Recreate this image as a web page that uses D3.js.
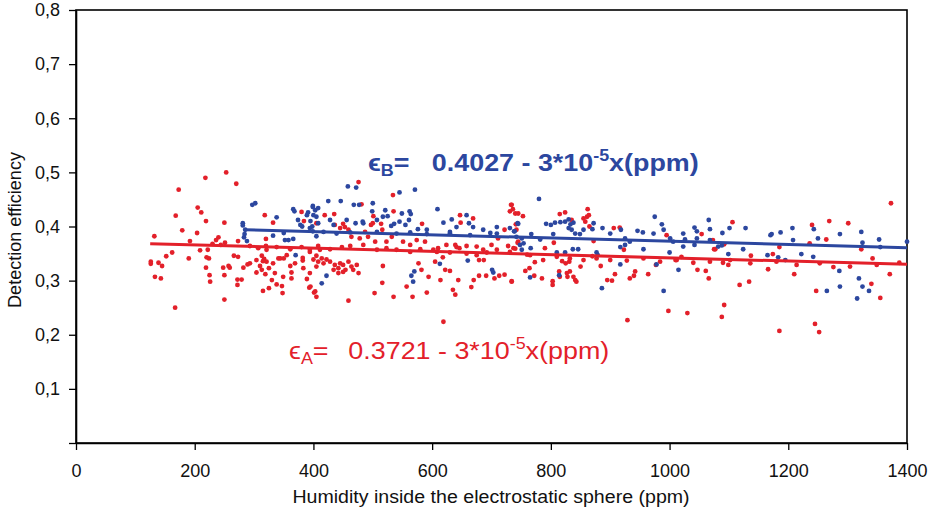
<!DOCTYPE html>
<html>
<head>
<meta charset="utf-8">
<script src="https://cdn.jsdelivr.net/npm/d3@7"></script>
<style>
  html, body { margin: 0; padding: 0; background: #ffffff; }
  svg { display: block; }
  text { font-family: "Liberation Sans", Arial, sans-serif; }
</style>
</head>
<body>
<svg id="chart" width="933" height="517"></svg>
<script>
// ---------------- DATA ----------------
const xTicks = [0, 200, 400, 600, 800, 1000, 1200, 1400];
const yTicks = [0, 0.1, 0.2, 0.3, 0.4, 0.5, 0.6, 0.7, 0.8];
const xTitle = "Humidity inside the electrostatic sphere (ppm)";
const yTitle = "Detection efficiency";

// fit lines: eps = a + b*x
const fitA = { a: 0.3721, b: -3e-5, x0: 125, x1: 1400 };
const fitB = { a: 0.4027, b: -3e-5, x0: 285, x1: 1400 };

// Detector A (red) points: [humidity ppm, efficiency]
const pointsA = [
[218,0.490],[253,0.500],[270,0.479],[173,0.468],[205,0.435],[211,0.426],[168,0.420],[219,0.410],[250,0.407],[179,0.393],
[204,0.388],[132,0.382],[192,0.373],[236,0.375],[251,0.370],[162,0.352],[152,0.345],[126,0.335],[126,0.331],[139,0.333],
[145,0.327],[133,0.307],[143,0.304],[190,0.341],[209,0.356],[222,0.357],[220,0.343],[224,0.341],[219,0.324],[225,0.310],
[226,0.298],[248,0.324],[257,0.327],[259,0.324],[250,0.310],[266,0.346],[273,0.344],[273,0.373],[282,0.324],[272,0.302],
[279,0.302],[272,0.292],[250,0.265],[167,0.250],[289,0.330],[293,0.332],[304,0.315],[318,0.421],[332,0.407],[320,0.377],
[320,0.364],[313,0.346],[317,0.340],[315,0.336],[325,0.323],[319,0.312],[330,0.301],[325,0.286],[315,0.281],[338,0.293],
[347,0.290],[348,0.277],[344,0.341],[350,0.341],[361,0.327],[363,0.315],[382,0.337],[382,0.342],[389,0.303],[393,0.287],
[401,0.278],[380,0.427],[384,0.410],[405,0.406],[293,0.364],[307,0.360],[321,0.357],[338,0.362],[361,0.358],[380,0.362],
[394,0.357],[408,0.364],[240,0.380],[244,0.366],[230,0.368],
[304,0.338],[310,0.327],[321,0.335],[332,0.332],[341,0.341],[355,0.347],[369,0.332],[383,0.323],[394,0.314],[405,0.326],
[313,0.320],[335,0.314],[349,0.307],[363,0.304],
[476,0.482],[481,0.441],[534,0.458],[419,0.421],[435,0.423],[535,0.428],[501,0.419],[500,0.406],[497,0.403],[450,0.405],
[453,0.399],[514,0.405],[516,0.394],[583,0.405],[647,0.421],[648,0.407],[669,0.415],[733,0.440],[736,0.432],[731,0.428],
[722,0.394],[405,0.346],[414,0.341],[422,0.339],[434,0.320],[442,0.323],[450,0.329],[454,0.320],[467,0.320],[476,0.314],
[395,0.289],[403,0.280],[405,0.270],[459,0.263],[503,0.277],[516,0.296],[517,0.327],[535,0.270],[557,0.289],[567,0.270],
[577,0.332],[582,0.320],[594,0.307],[591,0.278],[605,0.335],[614,0.301],[622,0.320],[630,0.318],[635,0.283],[639,0.274],
[644,0.301],[666,0.288],[670,0.301],[679,0.309],[679,0.338],[687,0.338],[691,0.309],[705,0.304],[713,0.309],[722,0.311],
[734,0.298],[619,0.224],[394,0.353],[411,0.357],[428,0.358],[448,0.362],[462,0.364],[484,0.366],[507,0.357],[523,0.360],
[540,0.357],[563,0.353],[580,0.358],[608,0.353],[624,0.366],[641,0.362],[658,0.350],[675,0.347],[692,0.352],[709,0.357],
[731,0.353],
[436,0.403],[445,0.397],[459,0.394],[464,0.381],[478,0.378],[487,0.390],[492,0.381],[504,0.372],[523,0.372],[532,0.381],
[551,0.372],[563,0.366],[574,0.375],[588,0.372],[602,0.357],[610,0.360],[618,0.343],[630,0.352],[639,0.366],[646,0.360],
[658,0.364],[675,0.363],[686,0.357],[700,0.366],[711,0.378],[728,0.364],[737,0.360],[745,0.372],
[400,0.339],[408,0.335],[417,0.332],[428,0.335],[436,0.329],[445,0.332],[459,0.335],[464,0.326],[473,0.329],[450,0.316],[442,0.314],
[734,0.440],[740,0.424],[745,0.424],[753,0.419],[741,0.404],[742,0.394],[744,0.370],[740,0.359],[734,0.299],[757,0.318],
[764,0.323],[773,0.334],[772,0.309],[785,0.304],[790,0.360],[805,0.370],[803,0.299],[803,0.292],[814,0.317],[815,0.307],
[815,0.423],[824,0.426],[835,0.412],[819,0.336],[825,0.332],[831,0.335],[827,0.314],[828,0.307],[832,0.317],[838,0.307],
[841,0.301],[843,0.298],[855,0.415],[858,0.409],[861,0.418],[864,0.421],[862,0.432],[865,0.400],[850,0.326],[872,0.373],
[884,0.327],[895,0.301],[903,0.300],[908,0.312],[906,0.397],[916,0.398],[923,0.357],[933,0.304],[940,0.309],[942,0.317],
[929,0.227],[964,0.312],[995,0.384],[977,0.329],[998,0.244],[1030,0.240],[1020,0.344],[1047,0.320],[1061,0.318],[1066,0.304],
[1054,0.386],[1075,0.358],[760,0.348],[870,0.345],[1010,0.338],
[765,0.347],[787,0.338],[810,0.344],[832,0.341],[855,0.338],[877,0.341],[900,0.338],[928,0.337],[956,0.341],[984,0.335],
[1012,0.338],[1040,0.333],[1068,0.335],
[1373,0.443],[1240,0.403],[1269,0.410],[1301,0.406],[1106,0.408],[1073,0.375],[1077,0.358],[1092,0.367],[1137,0.346],[1174,0.349],
[1185,0.362],[1236,0.369],[1264,0.376],[1090,0.333],[1099,0.329],[1166,0.321],[1210,0.312],[1276,0.325],[1323,0.358],[1342,0.341],
[1387,0.333],[1371,0.312],[1340,0.294],[1355,0.268],[1247,0.281],[1118,0.292],[1134,0.298],[1092,0.255],[1088,0.233],[1185,0.207],
[1245,0.220],[1252,0.205],
[1102,0.338],[1136,0.332],[1180,0.335],[1214,0.329],[1253,0.332],[1304,0.326],[1349,0.329]
];

// Detector B (blue) points
const pointsB = [
[297,0.440],[302,0.443],[281,0.406],[281,0.402],[285,0.394],[284,0.386],[283,0.380],[288,0.373],[332,0.383],[338,0.417],
[352,0.375],[350,0.388],[358,0.375],[366,0.432],[368,0.428],[374,0.412],[378,0.403],[381,0.400],[366,0.377],[399,0.438],
[403,0.430],[405,0.418],[391,0.426],[389,0.421],[395,0.410],[398,0.400],[399,0.391],[405,0.382],[370,0.347],
[458,0.474],[472,0.472],[425,0.447],[446,0.447],[468,0.440],[477,0.440],[500,0.443],[545,0.463],[571,0.468],[609,0.432],
[399,0.436],[408,0.434],[483,0.409],[499,0.428],[517,0.418],[525,0.419],[549,0.424],[562,0.428],[564,0.423],[471,0.406],
[484,0.406],[531,0.401],[536,0.405],[545,0.409],[561,0.412],[576,0.395],[619,0.407],[633,0.413],[658,0.421],[662,0.406],
[669,0.399],[744,0.406],[698,0.388],[739,0.391],[414,0.295],[422,0.309],[570,0.317],[565,0.309],[568,0.298],[613,0.331],
[660,0.337],[701,0.320],[703,0.315],[394,0.397],[417,0.390],[439,0.387],[462,0.389],[507,0.390],[540,0.387],[563,0.389],
[591,0.386],[630,0.387],[664,0.384],[709,0.387],[742,0.381],
[400,0.421],[408,0.406],[428,0.412],[434,0.403],[456,0.412],[507,0.412],[521,0.430],[555,0.403],[591,0.394],[630,0.390],
[641,0.399],[686,0.394],[709,0.399],[731,0.397],
[780,0.451],[792,0.405],[800,0.403],[807,0.407],[816,0.408],[824,0.409],[830,0.413],[833,0.404],[838,0.407],[830,0.397],
[835,0.394],[841,0.387],[849,0.386],[804,0.386],[837,0.358],[846,0.358],[810,0.352],[824,0.352],[877,0.352],[879,0.347],
[887,0.397],[814,0.310],[765,0.306],[738,0.391],[745,0.405],[748,0.366],[754,0.369],[751,0.357],[767,0.386],[870,0.395],
[886,0.286],[917,0.362],[925,0.366],[918,0.394],[917,0.330],[946,0.392],[955,0.389],[956,0.358],[975,0.418],[987,0.404],
[990,0.394],[1000,0.352],[1006,0.372],[990,0.281],[1015,0.320],[1026,0.376],[1023,0.363],[1042,0.398],[1046,0.391],[1042,0.366],
[1066,0.412],[1068,0.395],[1082,0.363],[978,0.330],
[751,0.378],[766,0.360],[782,0.376],[855,0.394],[872,0.406],[900,0.387],[925,0.378],[933,0.372],[973,0.387],[1001,0.378],
[1023,0.387],[1046,0.378],[1068,0.375],
[1089,0.388],[1101,0.397],[1128,0.397],[1170,0.384],[1172,0.386],[1187,0.389],[1207,0.397],[1243,0.395],[1250,0.378],[1208,0.375],
[1287,0.386],[1323,0.390],[1325,0.370],[1353,0.376],[1355,0.362],[1400,0.372],[1088,0.365],[1099,0.349],[1124,0.358],[1165,0.347],
[1183,0.343],[1195,0.338],[1222,0.349],[1242,0.344],[1286,0.318],[1319,0.304],[1325,0.289],[1336,0.281],[1316,0.267],[1265,0.281],
[1287,0.289]
];

// ---------------- DRAW ----------------
const RED = "#e3202a", BLUE = "#2c479f";
const svg = d3.select("#chart");
const mLeft = 76, mRight = 907, mTop = 10, mBottom = 443;
const x = d3.scaleLinear().domain([0, 1400]).range([mLeft, mRight]);
const y = d3.scaleLinear().domain([0, 0.8]).range([mBottom, mTop]);
const fmt = v => d3.format(".1f")(v).replace(".", ",");

// frame
svg.append("rect").attr("x", mLeft).attr("y", mTop)
  .attr("width", mRight - mLeft).attr("height", mBottom - mTop)
  .attr("fill", "none").attr("stroke", "#000").attr("stroke-width", 1.6);

const xAxis = svg.append("g").attr("transform", `translate(0,${mBottom})`)
  .call(d3.axisBottom(x).tickValues(xTicks).tickSize(7).tickSizeOuter(0).tickPadding(14).tickFormat(d3.format("d")));
const yAxis = svg.append("g").attr("transform", `translate(${mLeft},0)`)
  .call(d3.axisLeft(y).tickValues(yTicks).tickSize(7).tickSizeOuter(0).tickPadding(9)
    .tickFormat(v => v === 0 ? "" : fmt(v)));
[xAxis, yAxis].forEach(g => {
  g.select(".domain").attr("stroke", "#000").attr("stroke-width", 1.6);
  g.selectAll(".tick line").attr("stroke", "#000").attr("stroke-width", 1.3);
  g.selectAll(".tick text").attr("fill", "#111").style("font-size", "18px")
    .style("font-family", "'Liberation Sans', Arial, sans-serif");
});

// axis titles
svg.append("text").attr("transform", "translate(491,503) scale(1.12,1)").attr("text-anchor", "middle")
  .style("font-size", "17.5px").attr("fill", "#111").text(xTitle);
svg.append("text").attr("transform", "translate(21,230) rotate(-90)").attr("text-anchor", "middle")
  .style("font-size", "18px").attr("fill", "#111").text(yTitle);

// points
const plot = svg.append("g");
plot.selectAll("circle.a").data(pointsA).join("circle").attr("class", "a")
  .attr("cx", d => x(d[0])).attr("cy", d => y(d[1])).attr("r", 2.4).attr("fill", RED);
plot.selectAll("circle.b").data(pointsB).join("circle").attr("class", "b")
  .attr("cx", d => x(d[0])).attr("cy", d => y(d[1])).attr("r", 2.4).attr("fill", BLUE);

// fit lines
const line = d3.line().x(d => x(d[0])).y(d => y(d[1]));
[[fitA, RED], [fitB, BLUE]].forEach(([f, c]) => {
  plot.append("path")
    .attr("d", line([[f.x0, f.a + f.b * f.x0], [f.x1, f.a + f.b * f.x1]]))
    .attr("stroke", c).attr("stroke-width", 3).attr("fill", "none");
});

// equations
function equation(px, py, sub, body, color, weight, bodyX) {
  const g = svg.append("g").attr("transform", `translate(${px},${py}) scale(1.12,1)`)
    .attr("fill", color).style("font-weight", weight);
  const t1 = g.append("text").attr("x", 0).attr("y", 0).style("font-size", "24px");
  t1.append("tspan").text("\u03F5");
  t1.append("tspan").attr("dy", 5).style("font-size", "16px").text(sub);
  t1.append("tspan").attr("dy", -5).text("=");
  const t2 = g.append("text").attr("x", bodyX).attr("y", 0).style("font-size", "24px");
  t2.append("tspan").text(body);
  t2.append("tspan").attr("dy", -10).style("font-size", "16px").text("-5");
  t2.append("tspan").attr("dy", 10).text("x(ppm)");
}
equation(368, 171, "B", "0.4027 - 3*10", BLUE, "bold", 57);
equation(289, 359, "A", "0.3721 - 3*10", RED, "normal", 53);
</script>
</body>
</html>
